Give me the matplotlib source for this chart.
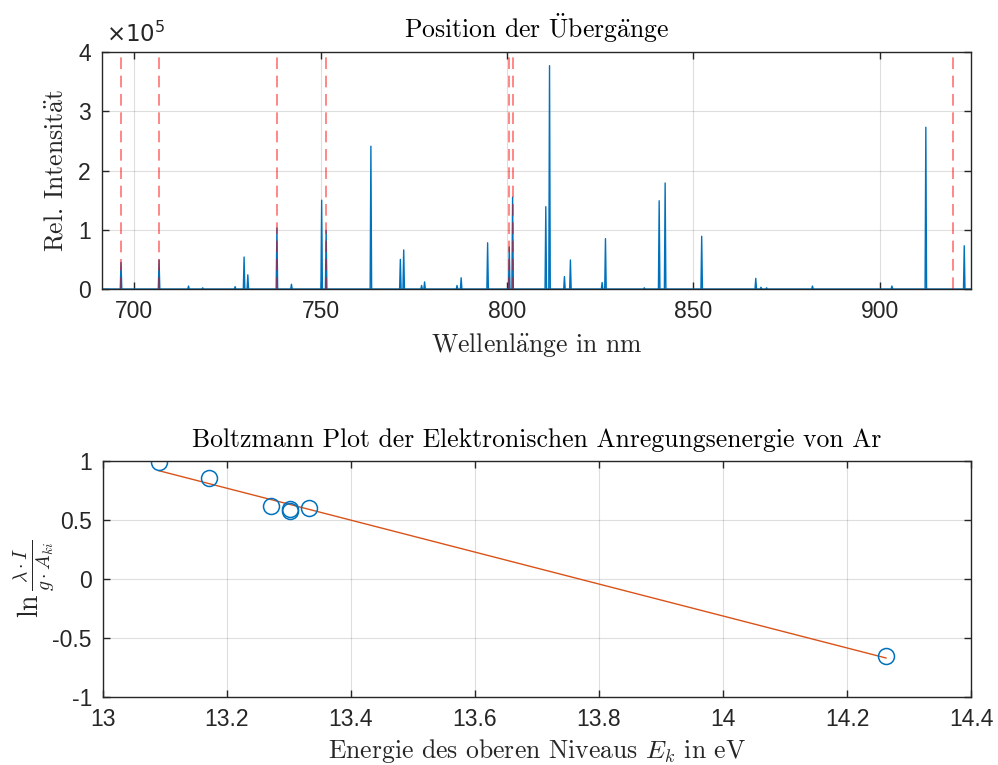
import numpy as np
import matplotlib
matplotlib.use("Agg")
import matplotlib.pyplot as plt

# --- Spektrum: Linienpositionen (nm) und Hoehen (x 1e5) ---
peak_wl = [696.5, 706.7, 714.6, 718.4, 727.1, 729.5, 730.5, 738.3, 742.2,
           750.3, 751.5, 763.5, 771.4, 772.3, 777.1, 777.9, 786.6, 787.7,
           794.8, 800.6, 801.5, 810.4, 811.4, 815.4, 817.0, 825.5, 826.4,
           836.8, 840.8, 842.4, 852.2, 866.7, 868.1, 869.6, 881.9, 903.2,
           912.3, 922.6]
peak_int = [0.45, 0.49, 0.05, 0.02, 0.04, 0.54, 0.24, 1.03, 0.08,
            1.50, 0.99, 2.41, 0.50, 0.66, 0.06, 0.12, 0.06, 0.19,
            0.78, 0.71, 1.55, 1.39, 3.77, 0.21, 0.49, 0.11, 0.85,
            0.02, 1.49, 1.79, 0.89, 0.18, 0.03, 0.02, 0.05, 0.05,
            2.73, 0.73]

# verwendete Uebergaenge (rote Linien)
trans_wl = [696.5, 706.7, 738.4, 751.5, 800.6, 801.5, 919.6]

# --- Boltzmann Plot ---
E_k = [13.090, 13.171, 13.271, 13.301, 13.301, 13.332, 14.263]
ln_val = [0.988, 0.853, 0.621, 0.593, 0.579, 0.601, -0.650]

x_lim = (691.4, 924.4)

plt.rcParams['mathtext.fontset'] = 'cm'
tick_font = 'Liberation Sans'
serif = ['cmr10', 'DejaVu Serif']
dark = '#262626'
blue = '#0072BD'
orange = '#D95319'
fs_lab = 18.5


def style_axes(ax):
    for s in ax.spines.values():
        s.set_color(dark)
        s.set_linewidth(1.0)
    ax.tick_params(direction='in', top=True, right=True, length=5,
                   width=1.0, colors=dark, labelsize=16.5, pad=8)
    for lab in ax.get_xticklabels() + ax.get_yticklabels():
        lab.set_fontfamily(tick_font)
    ax.grid(True, color='#262626', alpha=0.15, linewidth=0.8)
    ax.set_axisbelow(True)


fig = plt.figure(figsize=(9.98, 7.65), dpi=100)
ax1 = fig.add_axes([0.1022, 0.6222, 0.8707, 0.3098])
ax2 = fig.add_axes([0.1032, 0.0889, 0.8697, 0.3085])

# Spektrum als Linie aufbauen
xs = [x_lim[0]]
ys = [0.0]
for w, h in zip(peak_wl, peak_int):
    xs += [w - 0.2, w, w + 0.2]
    ys += [0.0, h, 0.0]
xs.append(x_lim[1])
ys.append(0.0)
ax1.plot(xs, ys, color=blue, linewidth=1.0)
for w in trans_wl:
    ax1.axvline(w, color='red', alpha=0.55, linewidth=1.2, dashes=(7, 4))

ax1.set_xlim(*x_lim)
ax1.set_ylim(0, 4)
ax1.set_xticks([700, 750, 800, 850, 900])
ax1.set_yticks([0, 1, 2, 3, 4])
style_axes(ax1)
ax1.text(0.005, 1.02, r'$\times10^5$', transform=ax1.transAxes,
         fontsize=16.5, color=dark, math_fontfamily='dejavusans',
         ha='left', va='bottom')
ax1.set_title(r'Position der $\ddot{\mathrm{U}}$berg$\ddot{\mathrm{a}}$nge',
              fontfamily=serif, fontsize=fs_lab, pad=10)
ax1.set_xlabel(r'Wellenl$\ddot{\mathrm{a}}$nge in nm', fontfamily=serif,
               fontsize=fs_lab, color=dark, labelpad=6)
ax1.set_ylabel(r'Rel. Intensit$\ddot{\mathrm{a}}$t', fontfamily=serif,
               fontsize=fs_lab, color=dark, labelpad=8)

# Boltzmann Plot mit linearem Fit
coef = np.polyfit(E_k, ln_val, 1)
e_fit = np.array([min(E_k), max(E_k)])
ax2.plot(e_fit, np.polyval(coef, e_fit), color=orange, linewidth=1.0)
ax2.plot(E_k, ln_val, 'o', markerfacecolor='none', markeredgecolor=blue,
         markersize=11.5, markeredgewidth=1.1)
ax2.set_xlim(13, 14.4)
ax2.set_ylim(-1, 1)
ax2.set_xticks([13, 13.2, 13.4, 13.6, 13.8, 14, 14.2, 14.4])
ax2.set_xticklabels(['13', '13.2', '13.4', '13.6', '13.8', '14', '14.2', '14.4'])
ax2.set_yticks([-1, -0.5, 0, 0.5, 1])
ax2.set_yticklabels(['-1', '-0.5', '0', '0.5', '1'])
style_axes(ax2)
ax2.set_title('Boltzmann Plot der Elektronischen Anregungsenergie von Ar',
              fontfamily=serif, fontsize=fs_lab, pad=10)
ax2.set_xlabel(r'Energie des oberen Niveaus $E_k$ in eV', fontfamily=serif,
               fontsize=fs_lab, color=dark, labelpad=4)
ax2.set_ylabel(r'$\ln\frac{\lambda\cdot I}{g\cdot A_{ki}}$', fontsize=20,
               color=dark, labelpad=-4)

fig.savefig('out.png', dpi=100)
